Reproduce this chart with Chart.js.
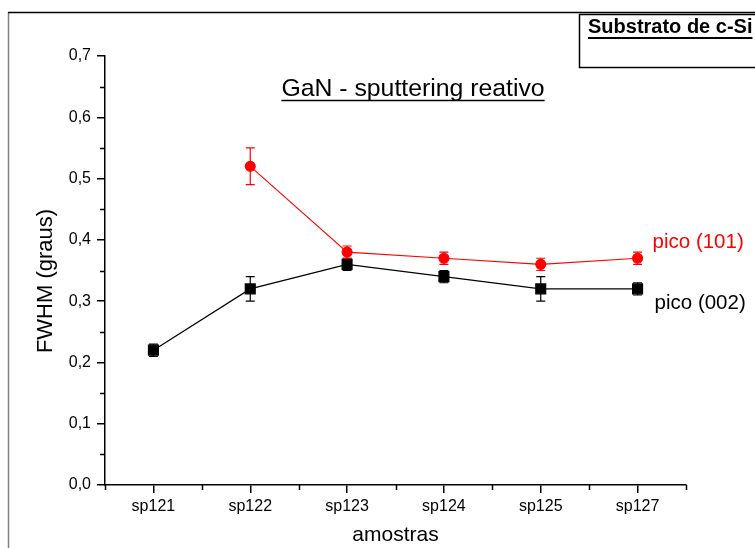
<!DOCTYPE html>
<html>
<head>
<meta charset="utf-8">
<script src="https://cdn.jsdelivr.net/npm/chart.js@4"></script>
<style>
  html, body { margin: 0; padding: 0; background: #fff; }
  #wrap { width: 755px; height: 548px; }
</style>
</head>
<body>
<div id="wrap"><canvas id="fwhm"></canvas></div>
<script>
const amostras = ['sp121', 'sp122', 'sp123', 'sp124', 'sp125', 'sp127'];
const pico002 = [0.22, 0.32, 0.36, 0.34, 0.32, 0.32];
const erro002 = [0.01, 0.02, 0.01, 0.01, 0.02, 0.01];
const pico101 = [null, 0.52, 0.38, 0.37, 0.36, 0.37];
const erro101 = [null, 0.03, 0.01, 0.01, 0.01, 0.01];
const yMinor = [0.05, 0.15, 0.25, 0.35, 0.45, 0.55, 0.65];

const fonte = '"Liberation Sans", Arial, sans-serif';

function underlinedText(ctx, txt, x, y, align, gap) {
  ctx.textAlign = align;
  ctx.textBaseline = 'alphabetic';
  ctx.fillText(txt, x, y);
  const w = ctx.measureText(txt).width;
  const x0 = align === 'center' ? x - w / 2 : x;
  ctx.beginPath();
  ctx.moveTo(x0, y + gap);
  ctx.lineTo(x0 + w, y + gap);
  ctx.stroke();
}

// barras de erro, ticks menores, moldura e textos
const extras = {
  id: 'extras',
  afterDatasetsDraw(chart) {
    const ctx = chart.ctx;
    const xs = chart.scales.x, ys = chart.scales.y;
    const series = [[pico002, erro002, '#000000'], [pico101, erro101, '#ff0000']];
    ctx.save();
    ctx.lineWidth = 1.2;
    series.forEach(([vals, errs, cor]) => {
      ctx.strokeStyle = cor;
      vals.forEach((v, i) => {
        if (v === null) return;
        const x = xs.getPixelForValue(i);
        const yt = ys.getPixelForValue(v + errs[i]);
        const yb = ys.getPixelForValue(v - errs[i]);
        ctx.beginPath();
        ctx.moveTo(x, yt); ctx.lineTo(x, yb);
        ctx.moveTo(x - 4.5, yt); ctx.lineTo(x + 4.5, yt);
        ctx.moveTo(x - 4.5, yb); ctx.lineTo(x + 4.5, yb);
        ctx.stroke();
      });
    });

    // ticks menores
    ctx.strokeStyle = '#000';
    ctx.lineWidth = 1.5;
    const ca = chart.chartArea;
    ctx.beginPath();
    yMinor.forEach(v => {
      const y = Math.round(ys.getPixelForValue(v)) + 0.5;
      ctx.moveTo(ca.left, y); ctx.lineTo(ca.left - 5, y);
    });
    for (let i = -0.5; i <= amostras.length - 0.5; i += 1) {
      const x = Math.round(xs.getPixelForValue(i)) + 0.5;
      ctx.moveTo(x, ca.bottom); ctx.lineTo(x, ca.bottom + 5);
    }
    ctx.stroke();

    // título do eixo y
    ctx.save();
    ctx.translate(46, 281);
    ctx.rotate(-Math.PI / 2);
    ctx.font = '22px ' + fonte;
    ctx.fillStyle = '#000';
    ctx.textAlign = 'center';
    ctx.textBaseline = 'middle';
    ctx.fillText('FWHM (graus)', 0, 0);
    ctx.restore();

    // rótulos das séries
    const last = amostras.length - 1;
    ctx.font = '20.5px ' + fonte;
    ctx.textAlign = 'left';
    ctx.textBaseline = 'middle';
    ctx.fillStyle = '#ff0000';
    ctx.fillText('pico (101)', xs.getPixelForValue(last) + 15, ys.getPixelForValue(pico101[last]) - 16);
    ctx.fillStyle = '#000';
    ctx.fillText('pico (002)', xs.getPixelForValue(last) + 17, ys.getPixelForValue(pico002[last]) + 14);

    // título
    ctx.font = '24.8px ' + fonte;
    ctx.lineWidth = 1.5;
    ctx.strokeStyle = '#000';
    underlinedText(ctx, 'GaN - sputtering reativo', 413, 96, 'center', 4.5);

    // moldura
    ctx.lineWidth = 1.5;
    ctx.strokeStyle = '#808080';
    ctx.beginPath(); ctx.moveTo(8.5, 12); ctx.lineTo(8.5, 548); ctx.stroke();
    ctx.strokeStyle = '#000';
    ctx.beginPath(); ctx.moveTo(8, 12.5); ctx.lineTo(755, 12.5); ctx.stroke();
    ctx.strokeRect(579.5, 14.5, 180, 53);
    ctx.font = 'bold 20px ' + fonte;
    ctx.lineWidth = 2;
    underlinedText(ctx, 'Substrato de c-Si', 588, 33, 'left', 5);
    ctx.restore();
  }
};

const ctx = document.getElementById('fwhm').getContext('2d');

new Chart(ctx, {
  type: 'line',
  data: {
    labels: amostras,
    datasets: [{
      label: 'pico (002)',
      data: pico002,
      borderColor: '#000000',
      backgroundColor: '#000000',
      borderWidth: 1.2,
      pointStyle: 'rect',
      pointRadius: 7,
      pointHoverRadius: 7
    }, {
      label: 'pico (101)',
      data: pico101,
      borderColor: '#ff0000',
      backgroundColor: '#ff0000',
      borderWidth: 1.1,
      pointStyle: 'circle',
      pointRadius: 5,
      pointHoverRadius: 5
    }]
  },
  options: {
    responsive: true,
    maintainAspectRatio: false,
    animation: false,
    layout: { padding: { left: 25, right: 69, top: 56, bottom: 0 } },
    plugins: {
      legend: { display: false },
      tooltip: { enabled: false }
    },
    scales: {
      x: {
        offset: true,
        afterFit: s => { s.height = 63; },
        grid: { offset: false, drawOnChartArea: false, color: '#000', lineWidth: 1.5, tickLength: 8 },
        border: { color: '#000', width: 1.5 },
        ticks: { color: '#000', font: { family: fonte, size: 16 }, padding: 4, maxRotation: 0 },
        title: { display: true, text: 'amostras', color: '#000', font: { family: fonte, size: 21 }, padding: { top: 0, bottom: 0 } }
      },
      y: {
        min: 0,
        max: 0.7,
        afterFit: s => { s.width = 80; },
        grid: { drawOnChartArea: false, color: '#000', lineWidth: 1.5, tickLength: 8 },
        border: { color: '#000', width: 1.5 },
        ticks: {
          stepSize: 0.1,
          color: '#000',
          font: { family: fonte, size: 16 },
          padding: 6,
          callback: v => v.toFixed(1).replace('.', ',')
        }
      }
    }
  },
  plugins: [extras]
});
</script>
</body>
</html>
